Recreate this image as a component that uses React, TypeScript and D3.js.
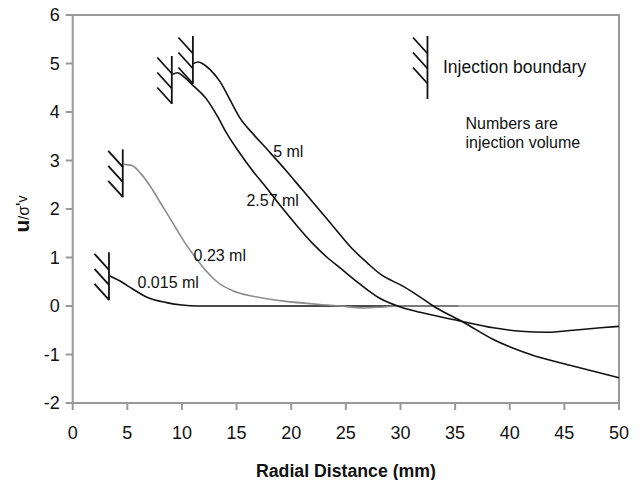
import React from "react";
import * as d3 from "d3";

// ---- data (mm, u/σ'v) ----
const series015: [number, number][] = [
  [3.4, 0.62], [4.3, 0.52], [5.5, 0.35], [6.8, 0.18], [8.6, 0.07], [10.0, 0.02], [11.5, 0.0], [20, 0], [30, 0], [35.3, 0],
];
const series023: [number, number][] = [
  [4.7, 2.92], [5.4, 2.9], [6.2, 2.74], [7.1, 2.47], [8.0, 2.14], [9.2, 1.7], [10.4, 1.26], [11.3, 0.98],
  [12.3, 0.7], [13.2, 0.5], [14.7, 0.31], [16.5, 0.2], [19.0, 0.11], [22.6, 0.03], [24.5, 0.0],
  [26.6, -0.04], [28.5, -0.02], [30.0, 0.0], [40, 0], [50, 0],
];
const series257: [number, number][] = [
  [9.15, 4.78], [9.6, 4.81], [10.2, 4.72], [11.0, 4.55], [12.3, 4.25], [13.2, 3.93], [14.1, 3.56], [15.3, 3.15],
  [16.5, 2.78], [17.8, 2.42], [19.0, 2.07], [20.5, 1.66], [22.0, 1.28], [23.3, 1.0], [24.5, 0.78], [26.3, 0.45],
  [28.1, 0.16], [30.0, -0.02], [31.8, -0.13], [35.5, -0.31], [38.5, -0.45], [41.0, -0.52], [43.4, -0.54],
  [45.8, -0.5], [48.3, -0.45], [50, -0.42],
];
const series5: [number, number][] = [
  [11.05, 5.0], [11.5, 5.03], [12.0, 4.98], [12.6, 4.87], [13.5, 4.62], [14.4, 4.25], [15.3, 3.88], [16.5, 3.55],
  [18.0, 3.18], [19.5, 2.8], [21.0, 2.4], [22.5, 2.0], [24.0, 1.6], [25.5, 1.2], [27.0, 0.88], [28.2, 0.65],
  [30.3, 0.4], [31.7, 0.2], [33.0, 0.0], [35.8, -0.34], [38.5, -0.69], [41.9, -1.0], [45.5, -1.22], [50, -1.48],
];
const seriesNames = ["0.015 ml", "0.23 ml", "2.57 ml", "5 ml"];
const seriesData = [series015, series023, series257, series5];
const seriesColors = ["#111", "#8c8c8c", "#111", "#111"];

// injection boundary marks: x (mm) and top of the mark (u/σ'v)
const boundaryX = [3.32, 4.58, 9.07, 11.0];
const boundaryTop = [1.107, 3.23, 5.155, 5.567];

// curve labels in data coordinates
const labelX = [5.93, 11.06, 15.9, 18.35];
const labelY = [0.365, 0.93, 2.07, 3.08];

// legend
const legendX = 32.47;
const legendTop = 5.567;
const legendText = "Injection boundary";
const noteLines = ["Numbers are", "injection volume"];
const noteX = 35.95;
const noteY = [3.64, 3.26];

const xTicks = [0, 5, 10, 15, 20, 25, 30, 35, 40, 45, 50];
const yTicks = [-2, -1, 0, 1, 2, 3, 4, 5, 6];

const W = 644;
const H = 480;
const M_LEFT = 72.7;
const M_RIGHT = 619;
const M_TOP = 15;
const M_BOTTOM = 403;

export default function App() {
  const x = d3.scaleLinear().domain([0, 50]).range([M_LEFT, M_RIGHT]);
  const y = d3.scaleLinear().domain([-2, 6]).range([M_BOTTOM, M_TOP]);
  const line = d3
    .line<[number, number]>()
    .x((d) => x(d[0]))
    .y((d) => y(d[1]))
    .curve(d3.curveMonotoneX);
  const font = "Arial, 'Liberation Sans', Helvetica, sans-serif";
  const frameColor = "#999999";

  const x0 = x(0);
  const x1 = x(50);
  const yTop = y(6);
  const yBot = y(-2);
  const framePath = `M${x0},${yTop}L${x1},${yTop}L${x1},${yBot}L${x0},${yBot}Z`;
  const tickPath =
    yTicks.map((t) => `M${x0 - 7},${y(t)}L${x0},${y(t)}`).join("") +
    xTicks.map((t) => `M${x(t)},${yBot}L${x(t)},${yBot + 7}`).join("");

  const hatch = (bx: number, bt: number, len: number, key: string) => {
    const px = x(bx);
    const py = y(bt);
    return (
      <g key={key} stroke="#111" strokeWidth={1.8} fill="none" strokeLinecap="butt">
        <line x1={px} y1={py} x2={px} y2={py + len} />
        {[0, 1, 2].map((k) => (
          <line key={k} x1={px - 14.5} y1={py + 1.5 + k * 15} x2={px} y2={py + 1.5 + k * 15 + 16} />
        ))}
      </g>
    );
  };

  return (
    <svg width={W} height={H} style={{ position: "absolute", left: 0, top: 0, background: "#fff" }} fontFamily={font}>
      {/* plot frame and ticks */}
      <path d={framePath} fill="none" stroke={frameColor} strokeWidth={2} />
      <path d={tickPath} fill="none" stroke={frameColor} strokeWidth={2} />
      {yTicks.map((t) => (
        <text key={"y" + t} x={x0 - 13} y={y(t)} dy="0.36em" textAnchor="end" fontSize={18} fill="#111">
          {t}
        </text>
      ))}
      {xTicks.map((t) => (
        <text key={"x" + t} x={x(t)} y={439} textAnchor="middle" fontSize={18} fill="#111">
          {t}
        </text>
      ))}
      {/* axis titles */}
      <text x={346} y={477} textAnchor="middle" fontSize={18} fontWeight="bold" fill="#111" textLength={180} lengthAdjust="spacingAndGlyphs">
        Radial Distance (mm)
      </text>
      <text transform="translate(29,214) rotate(-90)" textAnchor="middle" fill="#111">
        <tspan fontSize={21} fontWeight="bold">u</tspan>
        <tspan fontSize={14}>/</tspan>
        <tspan fontSize={16}>σ</tspan>
        <tspan fontSize={14} fontWeight="bold" dy={-3}>'</tspan>
        <tspan fontSize={14} dy={1}>v</tspan>
      </text>
      {/* series lines */}
      {seriesData.map((s, i) => (
        <path key={seriesNames[i]} d={line(s) || ""} fill="none" stroke={seriesColors[i]} strokeWidth={1.6} />
      ))}
      {/* injection boundary marks */}
      {boundaryX.map((bx, i) => hatch(bx, boundaryTop[i], 48, "b" + i))}
      {/* curve labels */}
      {seriesNames.map((n, i) => (
        <text key={"l" + n} x={x(labelX[i])} y={y(labelY[i])} fontSize={16} fill="#111">
          {n}
        </text>
      ))}
      {/* legend */}
      {hatch(legendX, legendTop, 63, "legend")}
      <text x={443} y={73} fontSize={17.5} fill="#111">
        {legendText}
      </text>
      {noteLines.map((t, i) => (
        <text key={t} x={x(noteX)} y={y(noteY[i])} fontSize={16} fill="#111">
          {t}
        </text>
      ))}
    </svg>
  );
}
